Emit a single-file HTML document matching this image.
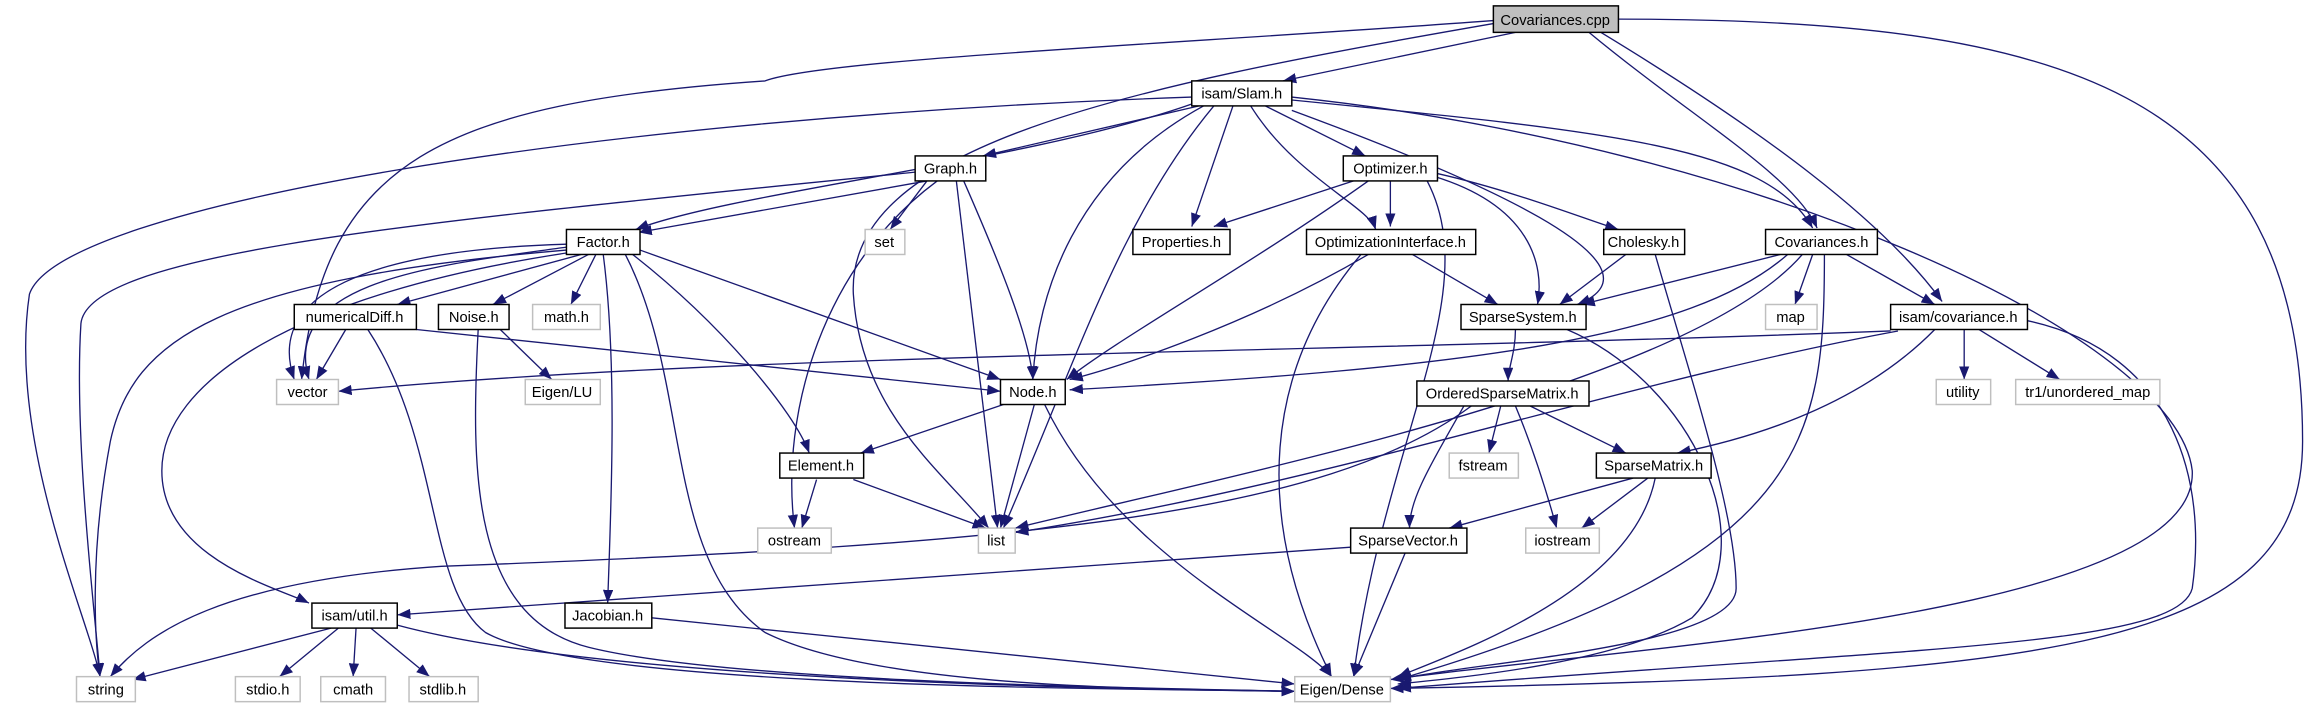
<!DOCTYPE html>
<html><head><meta charset="utf-8"><style>
html,body{margin:0;padding:0;background:#fff;}
svg{display:block;}
text{font-family:"Liberation Sans",sans-serif;font-size:10px;text-anchor:middle;fill:#000;}
.e{fill:none;stroke:#191970;stroke-width:0.9;marker-end:url(#a);}
.n{fill:#fff;stroke:#000;stroke-width:1;}
.g{fill:#fff;stroke:#bfbfbf;stroke-width:1;}
</style></head><body>
<svg width="2307" height="709" viewBox="0 0 1568 482" preserveAspectRatio="none" xmlns="http://www.w3.org/2000/svg">
<defs><marker id="a" markerWidth="9" markerHeight="7" refX="9" refY="3.5" orient="auto" markerUnits="userSpaceOnUse"><path d="M0,0 L9,3.5 L0,7 z" fill="#191970"/></marker></defs>
<g>
<!-- Covariances.cpp -->
<path class="e" d="M1030,22 L872,55"/>
<path class="e" d="M1015,16 C760,60 575,100 580,200 C585,280 640,320 672,359"/>
<path class="e" d="M1015,14 C800,30 560,40 520,55 C300,70 220,110 205,258"/>
<path class="e" d="M1080,22 C1150,80 1220,120 1235,155"/>
<path class="e" d="M1088,22 C1200,90 1280,150 1320,205"/>
<path class="e" d="M1100,13 C1400,13 1565,60 1565,300 C1565,440 1400,460 945,468"/>
<!-- Slam.h -->
<path class="e" d="M810,66 C400,80 40,140 20,200 C5,300 60,420 68,460"/>
<path class="e" d="M812,70 C700,110 500,130 432,156"/>
<path class="e" d="M815,72 L668,106"/>
<path class="e" d="M825,72 C760,150 730,250 682,359"/>
<path class="e" d="M818,72 C730,120 705,200 702,258"/>
<path class="e" d="M838,72 L810,154"/>
<path class="e" d="M850,72 C880,120 930,140 935,156"/>
<path class="e" d="M860,72 L928,106"/>
<path class="e" d="M878,75 C1000,120 1140,180 1072,207"/>
<path class="e" d="M878,68 C1100,90 1200,100 1232,155"/>
<path class="e" d="M878,66 C1200,100 1480,230 1490,320 C1495,420 1100,440 945,462"/>
<!-- Graph.h -->
<path class="e" d="M622,117 C300,150 60,170 55,220 C50,300 65,420 68,460"/>
<path class="e" d="M630,123 L434,158"/>
<path class="e" d="M630,123 L605,156"/>
<path class="e" d="M637,123 C560,180 530,280 540,359"/>
<path class="e" d="M650,123 L678,359"/>
<path class="e" d="M655,123 C680,180 700,230 702,258"/>
<!-- Optimizer.h -->
<path class="e" d="M920,123 L825,154"/>
<path class="e" d="M945,123 L945,154"/>
<path class="e" d="M930,123 C850,180 760,230 725,258"/>
<path class="e" d="M970,123 C1010,200 940,300 920,460"/>
<path class="e" d="M975,120 C1040,140 1050,180 1045,207"/>
<path class="e" d="M977,118 C1030,130 1080,150 1100,156"/>
<!-- Factor.h -->
<path class="e" d="M385,166 C250,170 180,200 200,258"/>
<path class="e" d="M385,168 C300,180 190,190 210,258"/>
<path class="e" d="M385,170 C150,190 90,230 75,300 C60,380 65,440 68,460"/>
<path class="e" d="M385,172 C200,200 110,260 110,320 C110,380 190,400 210,410"/>
<path class="e" d="M395,173 L270,207"/>
<path class="e" d="M400,173 L335,207"/>
<path class="e" d="M405,173 L388,207"/>
<path class="e" d="M410,173 C420,250 415,350 413,410"/>
<path class="e" d="M425,173 C470,260 450,380 520,430 C600,470 800,468 880,470"/>
<path class="e" d="M430,173 C490,220 540,280 550,308"/>
<path class="e" d="M435,170 L680,258"/>
<!-- numericalDiff.h -->
<path class="e" d="M235,224 L215,258"/>
<path class="e" d="M283,224 L680,266"/>
<path class="e" d="M250,224 C300,300 290,400 330,430 C400,470 800,468 880,470"/>
<!-- Noise.h -->
<path class="e" d="M340,224 L375,258"/>
<path class="e" d="M325,224 C320,320 320,420 400,440 C500,465 800,468 880,470"/>
<!-- OptimizationInterface.h -->
<path class="e" d="M960,173 L1018,207"/>
<path class="e" d="M930,173 C850,220 760,250 727,258"/>
<path class="e" d="M925,173 C860,250 850,350 905,460"/>
<!-- Cholesky.h -->
<path class="e" d="M1105,173 L1060,207"/>
<path class="e" d="M1125,173 C1150,260 1180,350 1180,400 C1180,440 1000,450 950,462"/>
<!-- Covariances.h -->
<path class="e" d="M1210,173 L1075,207"/>
<path class="e" d="M1215,173 C1150,230 1000,250 727,265"/>
<path class="e" d="M1225,173 C1150,260 850,320 690,359"/>
<path class="e" d="M1232,173 L1220,207"/>
<path class="e" d="M1255,173 L1315,207"/>
<path class="e" d="M1240,173 C1240,300 1230,380 950,462"/>
<!-- SparseSystem.h -->
<path class="e" d="M1030,224 C1030,240 1025,250 1025,259"/>
<path class="e" d="M1065,224 C1150,260 1200,370 1150,420 C1100,450 1000,460 950,465"/>
<!-- isam/covariance.h -->
<path class="e" d="M1285,225 C900,240 500,240 230,266"/>
<path class="e" d="M1290,225 C1100,260 900,330 690,362"/>
<path class="e" d="M1335,224 L1335,258"/>
<path class="e" d="M1345,224 L1400,258"/>
<path class="e" d="M1315,224 C1260,280 1180,300 1140,308"/>
<path class="e" d="M1378,218 C1480,240 1500,330 1490,400 C1480,440 1300,440 950,468"/>
<!-- Node.h -->
<path class="e" d="M682,275 L585,308"/>
<path class="e" d="M703,275 L680,359"/>
<path class="e" d="M710,275 C760,380 880,430 905,460"/>
<!-- OrderedSparseMatrix.h -->
<path class="e" d="M1000,276 C900,350 700,370 300,385 C150,395 100,430 75,460"/>
<path class="e" d="M995,276 C970,320 958,340 958,359"/>
<path class="e" d="M1020,276 L1012,308"/>
<path class="e" d="M1030,276 C1040,300 1050,330 1058,359"/>
<path class="e" d="M1040,276 L1105,308"/>
<!-- Element.h -->
<path class="e" d="M555,326 L545,359"/>
<path class="e" d="M580,326 L670,359"/>
<!-- SparseMatrix.h -->
<path class="e" d="M1110,325 L985,359"/>
<path class="e" d="M1120,325 L1075,359"/>
<path class="e" d="M1125,325 C1110,400 1000,440 950,460"/>
<!-- SparseVector.h -->
<path class="e" d="M918,372 L270,418"/>
<path class="e" d="M955,376 L920,460"/>
<!-- isam/util.h -->
<path class="e" d="M225,427 L90,462"/>
<path class="e" d="M230,427 L190,460"/>
<path class="e" d="M242,427 L240,460"/>
<path class="e" d="M252,427 L292,460"/>
<path class="e" d="M270,425 C400,460 700,468 880,470"/>
<!-- Jacobian.h -->
<path class="e" d="M443,420 L880,465"/>
</g>
<g>
<rect x="1015" y="4" width="85" height="18" fill="#bfbfbf" stroke="#000"/><text x="1057" y="17">Covariances.cpp</text>
<rect class="n" x="810" y="55" width="68" height="17"/><text x="844" y="67">isam/Slam.h</text>
<rect class="n" x="622" y="106" width="48" height="17"/><text x="646" y="118">Graph.h</text>
<rect class="n" x="913" y="106" width="64" height="17"/><text x="945" y="118">Optimizer.h</text>
<rect class="n" x="385" y="156" width="50" height="17"/><text x="410" y="168">Factor.h</text>
<rect class="g" x="588" y="156" width="27" height="17"/><text x="601" y="168">set</text>
<rect class="n" x="770" y="156" width="66" height="17"/><text x="803" y="168">Properties.h</text>
<rect class="n" x="888" y="156" width="115" height="17"/><text x="945" y="168">OptimizationInterface.h</text>
<rect class="n" x="1090" y="156" width="55" height="17"/><text x="1117" y="168">Cholesky.h</text>
<rect class="n" x="1200" y="156" width="76" height="17"/><text x="1238" y="168">Covariances.h</text>
<rect class="n" x="200" y="207" width="83" height="17"/><text x="241" y="219">numericalDiff.h</text>
<rect class="n" x="298" y="207" width="48" height="17"/><text x="322" y="219">Noise.h</text>
<rect class="g" x="362" y="207" width="46" height="17"/><text x="385" y="219">math.h</text>
<rect class="n" x="993" y="207" width="85" height="17"/><text x="1035" y="219">SparseSystem.h</text>
<rect class="g" x="1200" y="207" width="35" height="17"/><text x="1217" y="219">map</text>
<rect class="n" x="1285" y="207" width="93" height="17"/><text x="1331" y="219">isam/covariance.h</text>
<rect class="g" x="188" y="258" width="42" height="17"/><text x="209" y="270" fill="#000">vector</text>
<rect class="g" x="357" y="258" width="51" height="17"/><text x="382" y="270">Eigen/LU</text>
<rect class="n" x="680" y="258" width="44" height="17"/><text x="702" y="270">Node.h</text>
<rect class="n" x="963" y="259" width="117" height="17"/><text x="1021" y="271">OrderedSparseMatrix.h</text>
<rect class="g" x="1316" y="258" width="37" height="17"/><text x="1334" y="270">utility</text>
<rect class="g" x="1370" y="258" width="98" height="17"/><text x="1419" y="270">tr1/unordered_map</text>
<rect class="n" x="530" y="308" width="57" height="17"/><text x="558" y="320">Element.h</text>
<rect class="g" x="985" y="308" width="47" height="17"/><text x="1008" y="320">fstream</text>
<rect class="n" x="1085" y="308" width="78" height="17"/><text x="1124" y="320">SparseMatrix.h</text>
<rect class="g" x="515" y="359" width="50" height="17"/><text x="540" y="371">ostream</text>
<rect class="g" x="665" y="359" width="25" height="17"/><text x="677" y="371">list</text>
<rect class="n" x="918" y="359" width="79" height="17"/><text x="957" y="371">SparseVector.h</text>
<rect class="g" x="1037" y="359" width="50" height="17"/><text x="1062" y="371">iostream</text>
<rect class="n" x="212" y="410" width="58" height="17"/><text x="241" y="422">isam/util.h</text>
<rect class="n" x="384" y="410" width="59" height="17"/><text x="413" y="422">Jacobian.h</text>
<rect class="g" x="52" y="460" width="40" height="17"/><text x="72" y="472">string</text>
<rect class="g" x="160" y="460" width="44" height="17"/><text x="182" y="472">stdio.h</text>
<rect class="g" x="218" y="460" width="44" height="17"/><text x="240" y="472">cmath</text>
<rect class="g" x="278" y="460" width="47" height="17"/><text x="301" y="472">stdlib.h</text>
<rect class="g" x="880" y="460" width="65" height="17"/><text x="912" y="472">Eigen/Dense</text>
</g>
</svg>
</body></html>
